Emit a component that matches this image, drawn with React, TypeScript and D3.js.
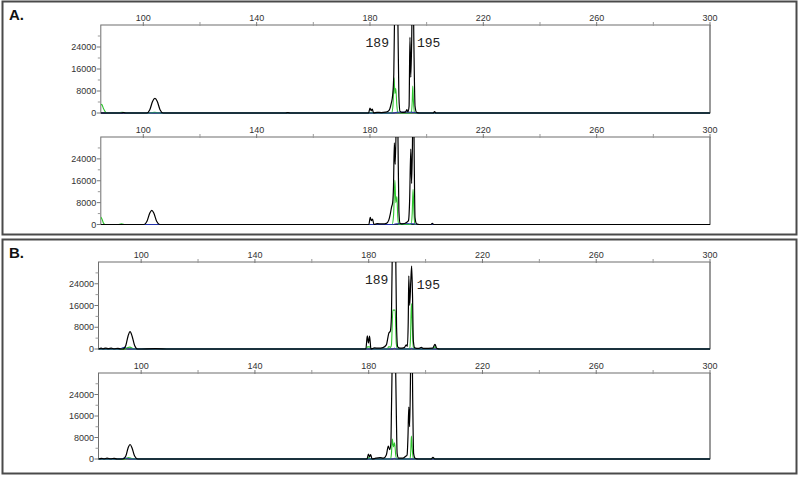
import React from 'react'
import * as d3 from 'd3'

type Pt = [number, number]

// axis ticks (base pairs on top, RFU on the left)
const sizeTicks = [100, 140, 180, 220, 260, 300]
const sizeMinorTicks = [120, 160, 200, 240, 280]
const rfuTicks = [0, 8000, 16000, 24000]
const rfuMinorTicks = [4000, 12000, 20000, 28000]
const sizeDomain: Pt = [85, 300]
const rfuDomain: Pt = [0, 32000]

const panelLabels = ['A.', 'B.']
const alleles = ['189', '195']

// traces: [size (bp), rfu]
const a1Black: Pt[] = [
  [85, 0], [92, 0], [93, 150], [94, 0],
  [101.2, 0], [102.3, 1200], [103.3, 4300], [104.1, 5300], [104.9, 4300], [105.9, 1200], [107, 0],
  [150, 0], [151, 150], [152, 0],
  [179.5, 0], [180.0, 1800], [180.4, 900], [180.8, 1400], [181.3, 0],
  [182.5, 250], [184, 150], [185.5, 300], [186.4, 600], [187.0, 1500], [187.5, 3500], [188.0, 6500],
  [188.4, 14000], [188.7, 38000], [189.2, 60000], [189.8, 38000], [190.2, 6000], [190.6, 600], [191.5, 200],
  [192.6, 400], [193.0, 1200], [193.4, 500], [193.8, 2500], [194.1, 27500], [194.4, 13000], [194.7, 25000],
  [195.1, 60000], [195.5, 25000], [195.9, 2500], [196.4, 300], [197.5, 0],
  [202.3, 0], [202.8, 500], [203.3, 0],
  [300, 0],
]
const a1Green: Pt[] = [
  [85, 3200], [85.4, 3000], [86.0, 1500], [86.8, 200], [87.5, 0],
  [91, 0], [92.5, 300], [94, 0],
  [102.5, 0], [104, 250], [105.5, 0],
  [179.8, 0], [180.4, 300], [181, 0],
  [187.6, 0], [188.1, 2500], [188.5, 12800], [188.8, 7000], [189.1, 9000], [189.5, 2500], [189.9, 0],
  [194.6, 0], [194.9, 4000], [195.1, 9800], [195.3, 5000], [195.7, 0],
  [300, 0],
]
const a1Blue: Pt[] = [
  [85, 0], [188.5, 0], [189.2, 250], [190.5, 300], [192, 350], [194, 300], [195.5, 250], [196.5, 0], [300, 0],
]

const a2Black: Pt[] = [
  [85, 0],
  [100.3, 0], [101.3, 1200], [102.3, 4200], [103.0, 5200], [103.7, 4200], [104.7, 1200], [105.8, 0],
  [179.6, 0], [180.1, 2600], [180.5, 1400], [180.9, 2000], [181.4, 0],
  [182.5, 300], [184.5, 200], [185.8, 400], [186.6, 1500], [187.2, 4000], [187.6, 6300], [188.0, 8000],
  [188.3, 14000], [188.6, 29900], [188.9, 22000], [189.3, 40000], [189.6, 60000], [189.9, 30000], [190.2, 5000],
  [190.6, 500], [191.5, 200],
  [193.0, 800], [193.6, 1500], [194.0, 9000], [194.4, 27600], [194.7, 15000], [195.0, 30000], [195.3, 60000],
  [195.6, 25000], [195.9, 2500], [196.4, 300], [197.5, 0],
  [201.5, 0], [202.0, 400], [202.5, 0],
  [300, 0],
]
const a2Green: Pt[] = [
  [85, 2700], [85.4, 2000], [86.0, 400], [86.6, 0],
  [91, 0], [92.3, 250], [93.6, 0],
  [187.8, 0], [188.3, 3000], [188.8, 16200], [189.1, 8000], [189.5, 10200], [189.8, 3000], [190.1, 0],
  [194.5, 0], [194.9, 4000], [195.2, 12900], [195.5, 5000], [195.8, 0],
  [300, 0],
]
const a2Blue: Pt[] = [
  [85, 0], [188.3, 0], [189, 250], [191, 300], [194, 300], [195.6, 250], [196.5, 0], [300, 0],
]

const b1Black: Pt[] = [
  [85, 0], [86, 300], [86.6, 100], [87.5, 350], [88.5, 150], [89.5, 300], [90.5, 100], [91.8, 250], [92.8, 0],
  [93.6, 0], [94.6, 1300], [95.4, 4800], [96.1, 6400], [96.8, 4800], [97.7, 1300], [98.8, 0],
  [105, 150], [110, 0],
  [179.0, 0], [179.5, 4800], [179.9, 2200], [180.3, 4700], [180.8, 0],
  [182, 400], [183.5, 300], [185, 500], [186.2, 1500], [186.8, 4500], [187.1, 5900], [187.6, 6500],
  [188.0, 12000], [188.4, 45000], [188.9, 60000], [189.4, 45000], [189.8, 8000], [190.2, 800], [191, 300],
  [192.5, 500], [193.2, 1500], [193.6, 1000], [193.9, 10000], [194.1, 26900], [194.4, 16000], [194.8, 25000],
  [195.1, 30500], [195.4, 20000], [195.7, 3000], [196.2, 400],
  [197.5, 200], [198.5, 600], [199.3, 200],
  [202.5, 300], [203.3, 1700], [203.9, 300], [205, 0],
  [300, 0],
]
const b1Green: Pt[] = [
  [85, 0], [94, 0], [95, 400], [96, 700], [97.5, 0],
  [179, 0], [179.6, 800], [180.3, 800], [181, 0],
  [186.5, 0], [187.1, 900], [187.7, 600],
  [188.0, 1500], [188.5, 14300], [189.3, 14300], [189.7, 2000], [190.1, 0],
  [194.4, 0], [194.7, 4000], [195.0, 16700], [195.4, 7000], [195.7, 0],
  [202.5, 0], [203.3, 800], [204, 0],
  [300, 0],
]
const b1Blue: Pt[] = [
  [85, 0], [92.5, 0], [93.5, 500], [94.3, 600], [95.3, 0],
  [188.5, 0], [189, 300], [189.6, 0], [194.8, 0], [195.1, 300], [195.5, 0], [300, 0],
]

const b2Black: Pt[] = [
  [85, 0], [86, 250], [87, 100], [88, 300], [89.3, 100], [90.5, 250], [91.5, 0],
  [93.6, 0], [94.6, 1100], [95.4, 4100], [96.1, 5400], [96.8, 4100], [97.7, 1100], [98.8, 0],
  [179.4, 0], [179.9, 1800], [180.3, 800], [180.7, 1600], [181.2, 0],
  [182.5, 300], [184, 500], [185.2, 300], [186.2, 1500], [186.9, 4800], [187.4, 3500], [187.8, 6000],
  [188.0, 18000], [188.4, 45000], [188.8, 60000], [189.3, 45000], [189.7, 18000], [190.0, 2000], [190.5, 300],
  [192, 300], [193, 1000], [193.5, 1500], [193.8, 8000], [194.1, 19300], [194.4, 12000], [194.8, 40000],
  [195.1, 60000], [195.5, 20000], [195.8, 2000], [196.3, 300], [197.5, 0],
  [202.0, 0], [202.6, 600], [203.2, 0],
  [300, 0],
]
const b2Green: Pt[] = [
  [85, 0], [94.5, 0], [95.5, 500], [96.5, 300], [97.5, 0],
  [179.5, 0], [180, 500], [180.6, 0],
  [187.6, 0], [188.0, 2000], [188.3, 7400], [188.7, 4500], [189.1, 6000], [189.5, 1500], [189.9, 0],
  [194.5, 0], [194.8, 3000], [195.0, 8500], [195.3, 4000], [195.7, 0],
  [202, 0], [202.6, 400], [203.2, 0],
  [300, 0],
]
const b2Blue: Pt[] = [
  [85, 0], [93, 0], [94, 400], [95, 300], [96, 0], [188.5, 0], [189, 250], [189.6, 0], [300, 0],
]

const traces = [
  { blue: a1Blue, black: a1Black, green: a1Green },
  { blue: a2Blue, black: a2Black, green: a2Green },
  { blue: b1Blue, black: b1Black, green: b1Green },
  { blue: b2Blue, black: b2Black, green: b2Green },
]
// where the allele calls sit: [size, rfu] of the text anchor
const alleleSpots: (Pt[] | null)[] = [
  [[186.7, 24000], [196.6, 24000]],
  null,
  [[186.9, 23800], [196.9, 22200]],
  null,
]

// layout
const W = 800
const H = 477
const plotRight = 710
const plotBoxes = [
  { left: 100.8, top: 25, bottom: 113 },
  { left: 100.8, top: 137, bottom: 224.5 },
  { left: 98.5, top: 262, bottom: 349 },
  { left: 98.5, top: 373, bottom: 459 },
]
const frames = [
  { x: 2.5, y: 1.5, w: 794, h: 233 },
  { x: 2.5, y: 239.5, w: 794, h: 234 },
]

const tickFont = '"Liberation Sans", Arial, sans-serif'

function Trace({ data, x, y, color, width }: { data: Pt[]; x: any; y: any; color: string; width: number }) {
  const line = d3
    .line<Pt>()
    .x((d) => x(d[0]))
    .y((d) => y(d[1]))
    .curve(d3.curveMonotoneX)
  return <path d={line(data) || ''} fill="none" stroke={color} strokeWidth={width} strokeLinejoin="round" />
}

function Plot({ i }: { i: number }) {
  const box = plotBoxes[i]
  const x = d3.scaleLinear().domain(sizeDomain).range([box.left, plotRight])
  const y = d3.scaleLinear().domain(rfuDomain).range([box.bottom, box.top])
  const t = traces[i]
  const spots = alleleSpots[i]
  const clipId = `clip-${i}`
  return (
    <g>
      <defs>
        <clipPath id={clipId}>
          <rect x={box.left} y={box.top} width={plotRight - box.left} height={box.bottom - box.top + 2} />
        </clipPath>
      </defs>
      {/* frame */}
      <rect
        x={box.left}
        y={box.top}
        width={plotRight - box.left}
        height={box.bottom - box.top}
        fill="white"
        stroke="#6f6f6f"
        strokeWidth={1}
      />
      <line x1={plotRight} x2={plotRight} y1={box.top} y2={box.bottom} stroke="#999" strokeWidth={2} />
      <line x1={box.left} x2={plotRight} y1={box.bottom} y2={box.bottom} stroke="#222" strokeWidth={1} />

      {/* size axis on top */}
      {sizeTicks.map((s) => (
        <g key={s}>
          <line x1={x(s)} x2={x(s)} y1={box.top - 3} y2={box.top + 1} stroke="#777" />
          <text x={x(s)} y={box.top - 4.5} textAnchor="middle" fontFamily={tickFont} fontSize={9} fill="#333">
            {s}
          </text>
        </g>
      ))}
      {sizeMinorTicks.map((s) => (
        <line key={s} x1={x(s)} x2={x(s)} y1={box.top - 3} y2={box.top + 1} stroke="#999" />
      ))}

      {/* rfu axis */}
      {rfuTicks.map((v) => (
        <g key={v}>
          <line x1={box.left - 4} x2={box.left} y1={y(v)} y2={y(v)} stroke="#777" />
          <text
            x={box.left - 4.5}
            y={y(v)}
            dy="0.35em"
            textAnchor="end"
            fontFamily={tickFont}
            fontSize={9}
            fill="#333"
          >
            {v}
          </text>
        </g>
      ))}
      {rfuMinorTicks.map((v) => (
        <line key={v} x1={box.left - 3} x2={box.left} y1={y(v)} y2={y(v)} stroke="#999" />
      ))}

      <g clipPath={`url(#${clipId})`}>
        <Trace data={t.green} x={x} y={y} color="#2fc52f" width={1.1} />
        <Trace data={t.blue} x={x} y={y} color="#1f2fa8" width={1} />
        <Trace data={t.black} x={x} y={y} color="#000" width={1.2} />
      </g>

      {spots &&
        spots.map((p, k) => (
          <text
            key={k}
            x={x(p[0])}
            y={y(p[1])}
            textAnchor={k === 0 ? 'end' : 'start'}
            fontFamily='"Liberation Mono", "DejaVu Sans Mono", monospace'
            fontSize={13}
            fill="#222"
          >
            {alleles[k]}
          </text>
        ))}
    </g>
  )
}

export default function App() {
  return (
    <svg
      width={W}
      height={H}
      viewBox={`0 0 ${W} ${H}`}
      style={{ position: 'absolute', left: 0, top: 0, display: 'block', background: 'white' }}
    >
      <rect x={0} y={0} width={W} height={H} fill="white" />
      {frames.map((f, k) => (
        <g key={k}>
          <rect x={f.x} y={f.y} width={f.w} height={f.h} fill="white" stroke="#4a4a4a" strokeWidth={2} />
          <text
            x={f.x + 6.5}
            y={f.y + 18.5}
            fontFamily={tickFont}
            fontWeight="bold"
            fontSize={15}
            fill="#111"
          >
            {panelLabels[k]}
          </text>
        </g>
      ))}
      {plotBoxes.map((_, i) => (
        <Plot key={i} i={i} />
      ))}
    </svg>
  )
}
